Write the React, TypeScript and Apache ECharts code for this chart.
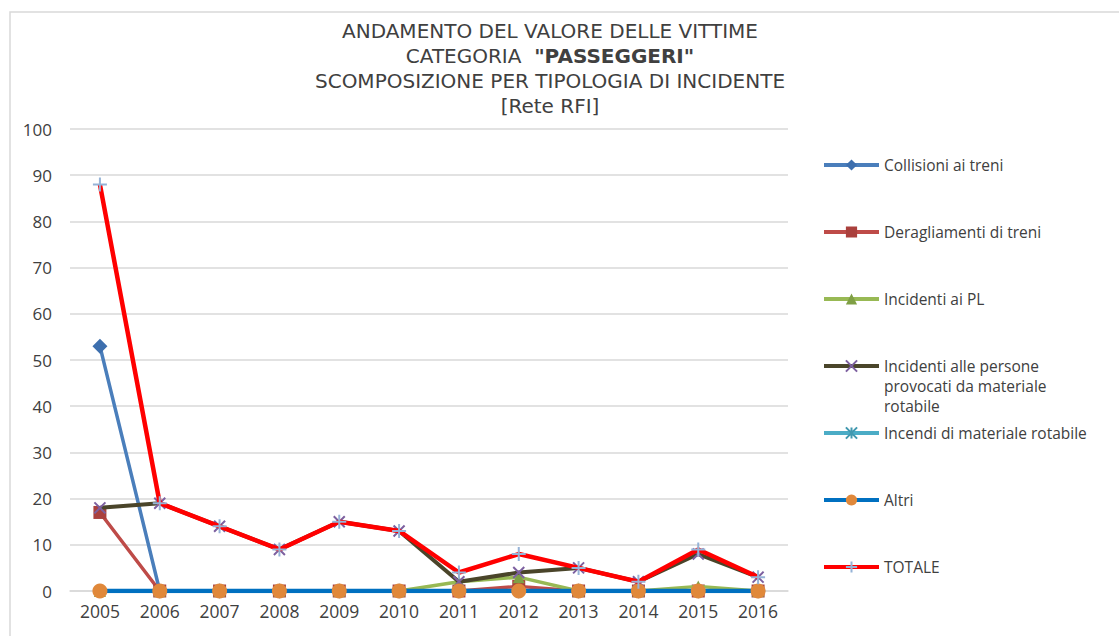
import React, { useEffect, useRef } from "react";
import * as echarts from "echarts";

const years = ["2005", "2006", "2007", "2008", "2009", "2010", "2011", "2012", "2013", "2014", "2015", "2016"];
const collisioni = [53, 0, 0, 0, 0, 0, 0, 0, 0, 0, 0, 0];
const deragliamenti = [17, 0, 0, 0, 0, 0, 0, 1, 0, 0, 0, 0];
const incidentiPL = [0, 0, 0, 0, 0, 0, 2, 3, 0, 0, 1, 0];
const incidentiPersone = [18, 19, 14, 9, 15, 13, 2, 4, 5, 2, 8, 3];
const incendi = [0, 0, 0, 0, 0, 0, 0, 0, 0, 0, 0, 0];
const altri = [0, 0, 0, 0, 0, 0, 0, 0, 0, 0, 0, 0];
const totale = [88, 19, 14, 9, 15, 13, 4, 8, 5, 2, 9, 3];

const names = [
  "Collisioni ai treni",
  "Deragliamenti di treni",
  "Incidenti ai PL",
  "Incidenti alle persone provocati da materiale rotabile",
  "Incendi di materiale rotabile",
  "Altri",
  "TOTALE",
];

const FONT = "Open Sans";
const TITLE_FONT = "DejaVu Sans";
const X_PATH = "path://M0,0 L10,10 M10,0 L0,10";
const PLUS_PATH = "path://M5,0 L5,10 M0,5 L10,5";
const STAR_PATH = "path://M0,0 L10,10 M10,0 L0,10 M5,0 L5,10";

export default function App() {
  const ref = useRef<HTMLDivElement>(null);
  useEffect(() => {
    if (!ref.current) return;
    const chart = echarts.init(ref.current, undefined, { renderer: "svg" });
    const mk = (
      name: string,
      data: number[],
      lineColor: string,
      width: number,
      symbol: string,
      symbolSize: number,
      itemStyle: any,
      z: number
    ) => ({
      name,
      type: "line",
      data,
      symbol,
      symbolSize,
      showSymbol: true,
      lineStyle: { color: lineColor, width },
      itemStyle,
      z,
      emphasis: { disabled: true },
    });
    const series = [
      mk(names[0], collisioni, "#4a7ebb", 3.5, "diamond", 15, { color: "#3d6fae" }, 2),
      mk(names[1], deragliamenti, "#be4b48", 3.5, "rect", 13, { color: "#aa403d" }, 3),
      mk(names[2], incidentiPL, "#98b954", 3.5, "triangle", 12, { color: "#7f9f45" }, 4),
      mk(names[3], incidentiPersone, "#4a452a", 4, X_PATH, 11, { color: "none", borderColor: "#7d60a0", borderWidth: 2 }, 5),
      mk(names[4], incendi, "#4bacc6", 3.5, STAR_PATH, 9, { color: "none", borderColor: "#4198af", borderWidth: 2 }, 6),
      mk(names[5], altri, "#0070c0", 4.5, "circle", 15, { color: "#e0883a" }, 7),
      mk(names[6], totale, "#ff0000", 4.5, PLUS_PATH, 14, { color: "none", borderColor: "#95b3d7", borderWidth: 2 }, 8),
    ];
    const legendTops = [162, 229, 296, 363, 430, 497, 564];
    const legends = names.map((n, i) => ({
      data: [n],
      left: 822,
      top: i === 3 ? legendTops[i] - 7 - 40 : legendTops[i] - 7,
      padding: 0,
      orient: "vertical",
      itemWidth: 55,
      itemHeight: 14,
      itemGap: 4,
      selectedMode: false,
      lineStyle: { width: 4 },
      formatter: i === 3 ? () => " \n \nIncidenti alle persone\nprovocati da materiale\nrotabile" : undefined,
      textStyle: {
        fontFamily: FONT,
        fontSize: 15.5,
        color: "#404040",
        lineHeight: 20,
      },
    }));
    chart.setOption({
      animation: false,
      backgroundColor: "#ffffff",
      title: {
        text: "{n|ANDAMENTO DEL VALORE DELLE VITTIME}\n{n|CATEGORIA  }{b|\"PASSEGGERI\"}\n{n|SCOMPOSIZIONE PER TIPOLOGIA DI INCIDENTE}\n{n|[Rete RFI]}",
        left: 545,
        top: 13,
        textAlign: "center",
        textStyle: {
          fontWeight: "normal",
          rich: {
            n: { fontFamily: TITLE_FONT, fontSize: 20, fontWeight: "normal", color: "#404040", lineHeight: 25.2 },
            b: { fontFamily: TITLE_FONT, fontSize: 20, fontWeight: "bold", color: "#404040", lineHeight: 25.2 },
          },
        },
      },
      graphic: [
        {
          type: "rect",
          shape: { x: 10, y: 12, width: 1120, height: 640 },
          style: { fill: "none", stroke: "#d9d9d9", lineWidth: 1.5 },
          silent: true,
          z: -1,
        },
      ],
      legend: legends,
      grid: { left: 70, right: 331, top: 129, bottom: 45 },
      xAxis: {
        type: "category",
        data: years,
        boundaryGap: true,
        axisLine: { show: true, lineStyle: { color: "#d9d9d9", width: 1.5 } },
        axisTick: { show: false },
        axisLabel: { fontFamily: FONT, fontSize: 17.5, color: "#404040", margin: 11 },
      },
      yAxis: {
        type: "value",
        min: 0,
        max: 100,
        interval: 10,
        axisLine: { show: false },
        axisTick: { show: false },
        splitLine: { lineStyle: { color: "#d9d9d9", width: 1.5 } },
        axisLabel: { fontFamily: FONT, fontSize: 17, color: "#404040", margin: 18 },
      },
      series,
    });
    return () => chart.dispose();
  }, []);
  return (
    <div
      ref={ref}
      style={{ position: "fixed", left: 0, top: 0, width: 1119, height: 636 }}
    />
  );
}
